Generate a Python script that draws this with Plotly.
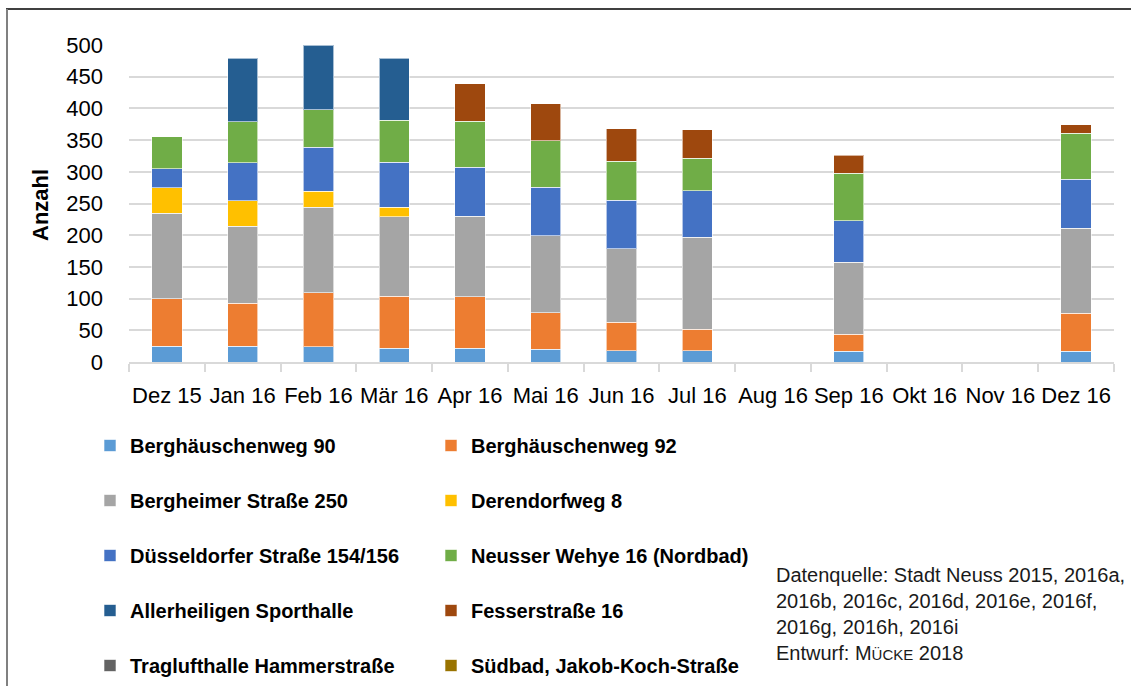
import plotly.graph_objects as go

months = ["Dez 15", "Jan 16", "Feb 16", "Mär 16", "Apr 16", "Mai 16", "Jun 16",
          "Jul 16", "Aug 16", "Sep 16", "Okt 16", "Nov 16", "Dez 16"]

N = None
berghaeuschenweg_90 = [25, 25, 24, 22, 22, 20, 18, 18, N, 17, N, N, 17]
berghaeuschenweg_92 = [75, 68, 85, 82, 81, 58, 45, 34, N, 27, N, N, 60]
bergheimer_250 = [135, 121, 135, 125, 127, 121, 116, 145, N, 113, N, N, 134]
derendorfweg_8 = [40, 40, 25, 15, N, N, N, N, N, N, N, N, N]
duesseldorfer_154 = [30, 60, 70, 71, 77, 77, 76, 73, N, 66, N, N, 77]
neusser_wehye = [50, 65, 59, 66, 73, 73, 62, 51, N, 75, N, N, 73]
allerheiligen = [N, 100, 102, 98, N, N, N, N, N, N, N, N, N]
fesserstrasse = [N, N, N, N, 59, 58, 51, 45, N, 28, N, N, 13]
traglufthalle = [N] * 13
suedbad = [N] * 13

series = [
    ("Berghäuschenweg 90", berghaeuschenweg_90, "#5b9bd5", "legend"),
    ("Berghäuschenweg 92", berghaeuschenweg_92, "#ed7d31", "legend2"),
    ("Bergheimer Straße 250", bergheimer_250, "#a5a5a5", "legend"),
    ("Derendorfweg 8", derendorfweg_8, "#ffc000", "legend2"),
    ("Düsseldorfer Straße 154/156", duesseldorfer_154, "#4472c4", "legend"),
    ("Neusser Wehye 16 (Nordbad)", neusser_wehye, "#70ad47", "legend2"),
    ("Allerheiligen Sporthalle", allerheiligen, "#255e91", "legend"),
    ("Fesserstraße 16", fesserstrasse, "#9e480e", "legend2"),
    ("Traglufthalle Hammerstraße", traglufthalle, "#636363", "legend"),
    ("Südbad, Jakob-Koch-Straße", suedbad, "#997300", "legend2"),
]

REG = "Liberation Sans, Arial, sans-serif"

fig = go.Figure()
for i, (name, vals, color, leg) in enumerate(series):
    fig.add_trace(go.Bar(
        x=months, y=vals, name=name,
        marker=dict(color=color, line=dict(color="rgba(255,255,255,0.6)", width=1)),
        legend=leg, legendgroup="g%d" % i,
    ))

W, H = 1131, 686
L, R, T, B = 129, 17, 45, 324
pw, ph = W - L - R, H - T - B

def px(xp):
    return (xp - L) / pw

def py(yp):
    return (H - B - yp) / ph

leg_common = dict(
    orientation="v", traceorder="grouped", tracegroupgap=26,
    font=dict(family=REG, size=20, color="#000000", weight="bold"),
    bgcolor="rgba(0,0,0,0)", borderwidth=0,
    xanchor="left", yanchor="top",
)

fig.update_layout(
    width=W, height=H,
    margin=dict(l=L, r=R, t=T, b=B, autoexpand=False),
    paper_bgcolor="white", plot_bgcolor="white",
    barmode="stack", bargap=0.6,
    showlegend=True,
    legend=dict(x=px(90), y=py(426), **leg_common),
    legend2=dict(x=px(431), y=py(426), **leg_common),
    xaxis=dict(
        type="category", tickson="boundaries", ticks="outside", ticklen=8,
        tickwidth=2, tickcolor="#d9d9d9", showline=True, linecolor="#d9d9d9",
        linewidth=2, showgrid=False, tickangle=0,
        tickfont=dict(family=REG, size=22, color="#000000"),
        ticklabelstandoff=13,
    ),
    yaxis=dict(
        range=[0, 500], dtick=50, tick0=0, showgrid=True, gridcolor="#d9d9d9",
        gridwidth=2, zeroline=False, showline=False, ticks="",
        tickfont=dict(family=REG, size=22, color="#000000"),
        ticklabelstandoff=25,
    ),
    annotations=[
        dict(text="<b>Anzahl</b>", textangle=-90, xref="paper", yref="paper",
             x=px(40), y=py(205), xanchor="center", yanchor="middle",
             showarrow=False, font=dict(family=REG, size=22, color="#000000")),
        dict(text="Datenquelle: Stadt Neuss 2015, 2016a,<br>2016b, 2016c, 2016d, 2016e, 2016f,"
                  "<br>2016g, 2016h, 2016i<br>Entwurf: M<span style='font-size:15px'>ÜCKE</span> 2018",
             xref="paper", yref="paper", x=px(774), y=py(562), xanchor="left",
             yanchor="top", align="left", showarrow=False,
             font=dict(family=REG, size=20, color="#1a1a1a")),
    ],
    shapes=[
        dict(type="line", xref="paper", yref="paper", x0=px(6), x1=px(W + 5),
             y0=py(9), y1=py(9), line=dict(color="#000000", width=1.5)),
        dict(type="line", xref="paper", yref="paper", x0=px(7), x1=px(7),
             y0=py(9), y1=py(H + 5), line=dict(color="#808080", width=2)),
    ],
)

fig.write_html("out.html", config={"displayModeBar": False},
               post_script="document.body.style.margin='0';document.body.style.overflow='hidden';")
